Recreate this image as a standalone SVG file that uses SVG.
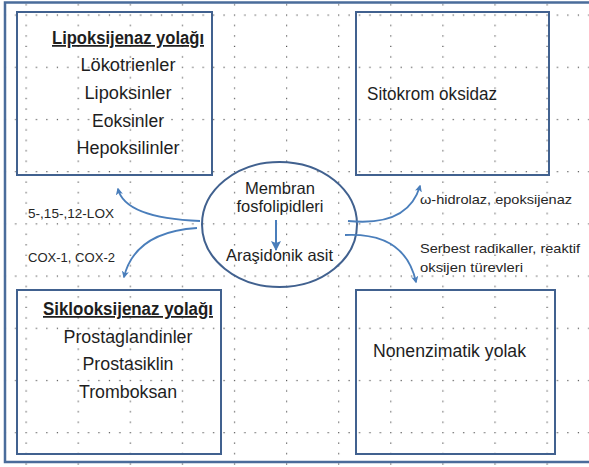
<svg xmlns="http://www.w3.org/2000/svg" width="589" height="467" viewBox="0 0 589 467">
  <style>
    .box { fill: none; stroke: #41618F; stroke-width: 2; }
    .frame { fill: none; stroke: #4A6C9B; stroke-width: 2.5; }
    .ell { fill: none; stroke: #41618F; stroke-width: 2; }
    .t { font-family: "Liberation Sans", Arial, sans-serif; fill: #1e1e1e; text-anchor: middle; }
    .big { font-size: 17.5px; }
    .mid { font-size: 16.5px; }
    .lbl { font-family: "Liberation Sans", Arial, sans-serif; fill: #262626; font-size: 13.5px; }
    .head { font-weight: bold; text-decoration: underline; }
    .conn { fill: none; stroke: #4A7EBB; stroke-width: 1.8; marker-end: url(#ah); }
    .down { fill: none; stroke: #4A7EBB; stroke-width: 2; marker-end: url(#ah2); }
  </style>
  <defs>
    <pattern id="grid" patternUnits="userSpaceOnUse" x="25.5" y="14.5" width="52.1" height="52.2">
      <g fill="#505050">
        <rect x="0" y="0" width="1.2" height="1.2"/>
        <rect x="0" y="10.4" width="1.2" height="1.2"/>
        <rect x="0" y="20.9" width="1.2" height="1.2"/>
        <rect x="0" y="31.3" width="1.2" height="1.2"/>
        <rect x="0" y="41.8" width="1.2" height="1.2"/>
        <rect x="10.4" y="0" width="1.2" height="1.2"/>
        <rect x="20.8" y="0" width="1.2" height="1.2"/>
        <rect x="31.3" y="0" width="1.2" height="1.2"/>
        <rect x="41.7" y="0" width="1.2" height="1.2"/>
      </g>
    </pattern>
    <marker id="ah" viewBox="0 0 10 10" refX="8" refY="5" markerWidth="4" markerHeight="4" orient="auto" markerUnits="strokeWidth">
      <path d="M0,0 L10,5 L0,10 L2.5,5 Z" fill="#4A7EBB"/>
    </marker>
    <marker id="ah2" viewBox="0 0 10 10" refX="9" refY="5" markerWidth="5" markerHeight="5" orient="auto" markerUnits="strokeWidth">
      <path d="M0,0 L10,5 L0,10 L2,5 Z" fill="#4A7EBB"/>
    </marker>
  </defs>

  <rect x="0" y="0" width="589" height="467" fill="#ffffff"/>
  <rect x="0" y="0" width="589" height="467" fill="url(#grid)"/>
  <path class="frame" d="M589,2.5 H5 V462 H589"/>

  <g id="lipoksijenaz">
    <rect class="box" x="17" y="12" width="195" height="163"/>
    <text class="t big head" x="128" y="44" textLength="152" lengthAdjust="spacingAndGlyphs">Lipoksijenaz yolağı</text>
    <text class="t big" x="128" y="71" textLength="95" lengthAdjust="spacingAndGlyphs">Lökotrienler</text>
    <text class="t big" x="128" y="99" textLength="87" lengthAdjust="spacingAndGlyphs">Lipoksinler</text>
    <text class="t big" x="128" y="127" textLength="72" lengthAdjust="spacingAndGlyphs">Eoksinler</text>
    <text class="t big" x="128" y="154" textLength="103" lengthAdjust="spacingAndGlyphs">Hepoksilinler</text>
  </g>

  <g id="sitokrom">
    <rect class="box" x="356" y="12" width="193" height="163"/>
    <text class="t big" x="432" y="100" textLength="130" lengthAdjust="spacingAndGlyphs">Sitokrom oksidaz</text>
  </g>

  <g id="siklooksijenaz">
    <rect class="box" x="17" y="290" width="204" height="164"/>
    <text class="t big head" x="128" y="315" textLength="170" lengthAdjust="spacingAndGlyphs">Siklooksijenaz yolağı</text>
    <text class="t big" x="128" y="343" textLength="129" lengthAdjust="spacingAndGlyphs">Prostaglandinler</text>
    <text class="t big" x="128" y="370" textLength="91" lengthAdjust="spacingAndGlyphs">Prostasiklin</text>
    <text class="t big" x="128" y="398" textLength="98" lengthAdjust="spacingAndGlyphs">Tromboksan</text>
  </g>

  <g id="nonenzimatik">
    <rect class="box" x="356" y="290" width="199" height="164"/>
    <text class="t big" x="449.5" y="357" textLength="153" lengthAdjust="spacingAndGlyphs">Nonenzimatik yolak</text>
  </g>

  <g id="membran">
    <ellipse class="ell" cx="279.5" cy="224.5" rx="77.5" ry="62.5"/>
    <text class="t mid" x="280" y="194" textLength="70" lengthAdjust="spacingAndGlyphs">Membran</text>
    <text class="t mid" x="280" y="212" textLength="87" lengthAdjust="spacingAndGlyphs">fosfolipidleri</text>
    <text class="t mid" x="279.5" y="261" textLength="107" lengthAdjust="spacingAndGlyphs">Araşidonik asit</text>
  </g>

  <g id="labels">
    <text class="lbl" x="28" y="218" textLength="86" lengthAdjust="spacingAndGlyphs">5-,15-,12-LOX</text>
    <text class="lbl" x="28" y="262" textLength="87" lengthAdjust="spacingAndGlyphs">COX-1, COX-2</text>
    <text class="lbl" x="420" y="204" textLength="152" lengthAdjust="spacingAndGlyphs">ω-hidrolaz, epoksijenaz</text>
    <text class="lbl" x="420" y="253" textLength="160" lengthAdjust="spacingAndGlyphs">Serbest radikaller, reaktif</text>
    <text class="lbl" x="420" y="272" textLength="103" lengthAdjust="spacingAndGlyphs">oksijen türevleri</text>
  </g>

  <g id="connectors">
    <path class="down" d="M276,220 V250"/>
    <path class="conn" d="M200,221 Q125,218 118,189"/>
    <path class="conn" d="M197,228 Q135,232 124,277"/>
    <path class="conn" d="M348,221 Q408,227 420,186"/>
    <path class="conn" d="M345,235 Q405,232 416,282"/>
  </g>
</svg>
